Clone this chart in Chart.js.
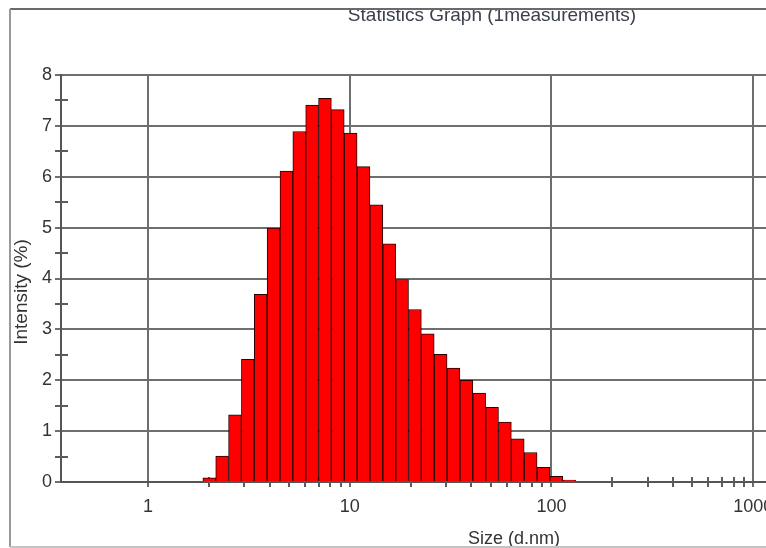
<!DOCTYPE html>
<html>
<head>
  <title>Statistics Graph</title>
  <script src="https://cdn.jsdelivr.net/npm/chart.js"></script>
  <style>
    body { margin: 0; background: #fff; overflow: hidden; }
    #wrap { width: 840px; height: 548px; }
  </style>
</head>
<body>
<div id="wrap"><canvas id="sizeChart" width="840" height="548"></canvas></div>
<script>
// size classes (d.nm) and intensity (%)
const sizes = [2.01, 2.328, 2.696, 3.122, 3.615, 4.187, 4.849, 5.615, 6.503, 7.531,
  8.721, 10.1, 11.7, 13.54, 15.69, 18.17, 21.04, 24.36, 28.21, 32.67,
  37.84, 43.82, 50.75, 58.77, 68.06, 78.82, 91.28, 105.7, 122.4];
const intensity = [0.08, 0.51, 1.32, 2.41, 3.69, 4.99, 6.11, 6.89, 7.41, 7.54,
  7.32, 6.86, 6.2, 5.45, 4.68, 3.98, 3.39, 2.91, 2.51, 2.24,
  2.0, 1.75, 1.47, 1.18, 0.85, 0.58, 0.29, 0.11, 0.04];
const xTicks = [1, 10, 100, 1000];
const yTicks = [0, 1, 2, 3, 4, 5, 6, 7, 8];

const FONT = "'Liberation Sans', Arial, sans-serif";
const xMin = 0.37, xMax = 2000;
const W = 840;
const areaLeft = 61, decadePx = 201.7;
const areaRight = areaLeft + decadePx * (Math.log10(xMax) - Math.log10(xMin));

const decor = {
  id: 'decor',
  beforeDraw(chart) {
    const c = chart.ctx;
    c.save();
    c.fillStyle = '#fff';
    c.fillRect(0, 0, chart.width, chart.height);
    c.restore();
  },
  beforeDatasetsDraw(chart) {
    const c = chart.ctx, x = chart.scales.x, y = chart.scales.y;
    const base = y.getPixelForValue(0);
    c.save();
    c.strokeStyle = '#5c5c5c';
    c.lineWidth = 2;
    c.beginPath();
    // minor ticks 2..9 in each decade from 1 to 1000
    for (let d = 0; d <= 2; d++) {
      for (let k = 2; k <= 9; k++) {
        const px = Math.round(x.getPixelForValue(k * Math.pow(10, d)));
        c.moveTo(px, base - 5);
        c.lineTo(px, base + 5);
      }
    }
    for (let v = 0.5; v < 8; v += 1) {
      const py = Math.round(y.getPixelForValue(v));
      c.moveTo(x.left - 6, py);
      c.lineTo(x.left + 7, py);
    }
    c.stroke();
    c.restore();
  },
  afterDraw(chart) {
    const c = chart.ctx;
    c.save();
    // title, top clipped by the frame
    c.save();
    c.beginPath();
    c.rect(0, 10, chart.width, chart.height);
    c.clip();
    c.fillStyle = '#3b404c';
    c.font = '19px ' + FONT;
    c.textAlign = 'center';
    c.textBaseline = 'alphabetic';
    c.fillText('Statistics Graph (1measurements)', 492, 21);
    c.restore();

    c.fillStyle = '#333';
    c.font = '18px ' + FONT;
    c.textAlign = 'center';
    c.textBaseline = 'alphabetic';
    c.fillText('Size (d.nm)', 514, 544);

    c.save();
    c.translate(27, 292);
    c.rotate(-Math.PI / 2);
    c.font = '19px ' + FONT;
    c.fillText('Intensity (%)', 0, 0);
    c.restore();

    // frame
    c.lineWidth = 2;
    c.strokeStyle = '#6a6a6a';
    c.beginPath(); c.moveTo(10, 9); c.lineTo(chart.width, 9); c.stroke();
    c.strokeStyle = '#9a9a9a';
    c.beginPath(); c.moveTo(10, 9); c.lineTo(10, 547); c.stroke();
    c.strokeStyle = '#c4c4c4';
    c.beginPath(); c.moveTo(10, 547); c.lineTo(chart.width, 547); c.stroke();
    c.restore();
  }
};

const ctx = document.getElementById('sizeChart').getContext('2d');
const chart = new Chart(ctx, {
  type: 'bar',
  data: {
    datasets: [{
      data: sizes.map((s, i) => ({ x: s, y: intensity[i] })),
      backgroundColor: '#ff0000',
      borderColor: '#2a0000',
      borderWidth: 1,
      barPercentage: 1,
      categoryPercentage: 1
    }]
  },
  options: {
    responsive: false,
    animation: false,
    layout: { padding: { left: 0, top: 75, right: W - areaRight, bottom: 0 } },
    plugins: { legend: { display: false }, tooltip: { enabled: false }, title: { display: false } },
    scales: {
      x: {
        type: 'logarithmic',
        min: xMin,
        max: xMax,
        offset: false,
        afterBuildTicks: s => { s.ticks = xTicks.map(v => ({ value: v })); },
        afterFit: s => { s.height = 66; s.paddingLeft = 0; s.paddingRight = 0; },
        ticks: {
          callback: v => String(v),
          autoSkip: false,
          maxRotation: 0,
          color: '#333',
          font: { family: FONT, size: 18 },
          padding: 9
        },
        grid: { color: '#6e6e6e', lineWidth: 2, tickLength: 5, offset: false },
        border: { color: '#555', width: 2 }
      },
      y: {
        min: 0,
        max: 8,
        afterBuildTicks: s => { s.ticks = yTicks.map(v => ({ value: v })); },
        afterFit: s => { s.width = areaLeft; s.paddingTop = 0; s.paddingBottom = 0; },
        ticks: {
          color: '#333',
          font: { family: FONT, size: 18 },
          padding: 3
        },
        grid: { color: '#6e6e6e', lineWidth: 2, tickLength: 6 },
        border: { color: '#555', width: 2 }
      }
    }
  },
  plugins: [decor]
});
</script>
</body>
</html>
